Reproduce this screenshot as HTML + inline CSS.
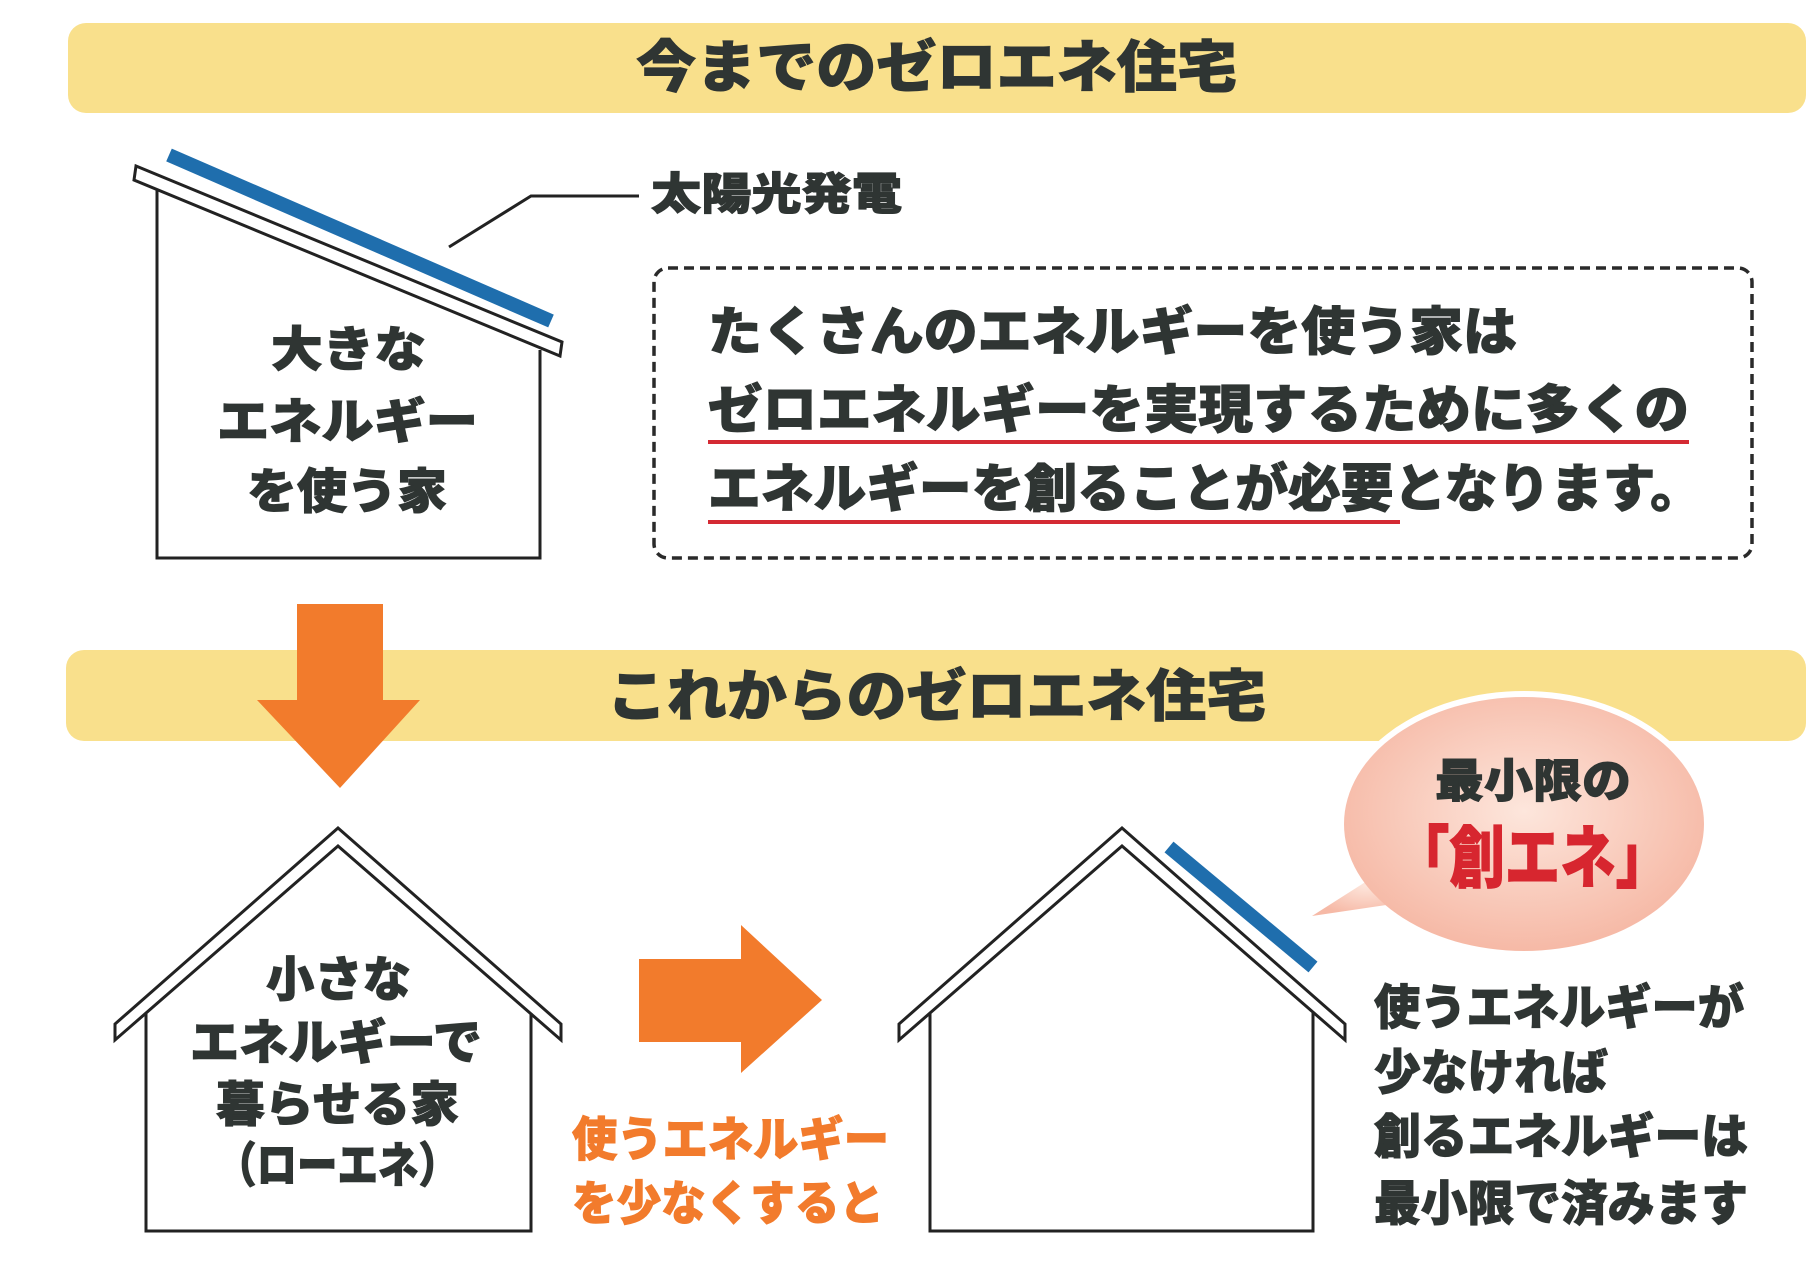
<!DOCTYPE html>
<html><head><meta charset="utf-8"><style>
html,body{margin:0;padding:0;background:#fff;}
svg{display:block;}
text{font-family:"Liberation Sans","Noto Sans CJK JP",sans-serif;font-weight:900;fill:#2f3533;stroke:#2f3533;stroke-width:1;}
</style></head><body>
<svg width="1820" height="1264" viewBox="0 0 1820 1264" xmlns="http://www.w3.org/2000/svg">
<defs>
<radialGradient id="pk" cx="50%" cy="45%" r="55%">
<stop offset="0" stop-color="#fde6dc"/><stop offset="1" stop-color="#f6b9a6"/>
</radialGradient>
</defs>
<rect x="68" y="23" width="1738" height="90" rx="18" fill="#f9e08c"/>
<text x="636" y="87" font-size="56" textLength="601" lengthAdjust="spacingAndGlyphs">今までのゼロエネ住宅</text>
<rect x="66" y="650" width="1740" height="91" rx="18" fill="#f9e08c"/>
<text x="607" y="716" font-size="56" textLength="659" lengthAdjust="spacingAndGlyphs">これからのゼロエネ住宅</text>

<line x1="169" y1="155" x2="551" y2="321" stroke="#1f6ead" stroke-width="14"/>
<polygon points="136,166 562,342 560,356 134,180" fill="#fff" stroke="#222" stroke-width="3"/>
<polyline points="157,190 157,558 540,558 540,350" fill="none" stroke="#222" stroke-width="3"/>
<polyline points="449,247 531,196 639,196" fill="none" stroke="#222" stroke-width="3"/>
<text x="651" y="209" font-size="44" textLength="251" lengthAdjust="spacingAndGlyphs">太陽光発電</text>
<text x="271" y="366" font-size="48" textLength="155" lengthAdjust="spacingAndGlyphs">大きな</text>
<text x="217" y="438" font-size="48" textLength="261" lengthAdjust="spacingAndGlyphs">エネルギー</text>
<text x="247" y="508" font-size="48" textLength="200" lengthAdjust="spacingAndGlyphs">を使う家</text>

<rect x="654" y="268" width="1098" height="290" rx="14" fill="none" stroke="#2a2a2a" stroke-width="3.5" stroke-dasharray="10,6"/>
<text x="708" y="350" font-size="52" textLength="809" lengthAdjust="spacingAndGlyphs">たくさんのエネルギーを使う家は</text>
<text x="708" y="428" font-size="52" textLength="981" lengthAdjust="spacingAndGlyphs">ゼロエネルギーを実現するために多くの</text>
<text x="708" y="507" font-size="52" textLength="995" lengthAdjust="spacingAndGlyphs">エネルギーを創ることが必要となります。</text>
<line x1="708" y1="442" x2="1689" y2="442" stroke="#d42a33" stroke-width="4"/>
<line x1="708" y1="522" x2="1400" y2="522" stroke="#d42a33" stroke-width="4"/>

<polygon points="297,604 383,604 383,700 420,700 340,788 257,700 297,700" fill="#f27b2c"/>

<polygon points="338,828 561,1024 561,1040 338,846 115,1040 115,1024" fill="#fff" stroke="#222" stroke-width="3"/>
<polyline points="146,1013 146,1231 531,1231 531,1013" fill="none" stroke="#222" stroke-width="3"/>
<text x="266" y="996" font-size="48" textLength="145" lengthAdjust="spacingAndGlyphs">小さな</text>
<text x="190" y="1059" font-size="48" textLength="292" lengthAdjust="spacingAndGlyphs">エネルギーで</text>
<text x="216" y="1121" font-size="48" textLength="243" lengthAdjust="spacingAndGlyphs">暮らせる家</text>
<text x="216" y="1182" font-size="48" textLength="243" lengthAdjust="spacingAndGlyphs">（ローエネ）</text>

<polygon points="639,959 741,959 741,925 822,1000 741,1073 741,1042 639,1042" fill="#f27b2c"/>
<text x="572" y="1156" font-size="47" textLength="317" lengthAdjust="spacingAndGlyphs" style="fill:#f27b2c;stroke:#f27b2c">使うエネルギー</text>
<text x="572" y="1220" font-size="47" textLength="312" lengthAdjust="spacingAndGlyphs" style="fill:#f27b2c;stroke:#f27b2c">を少なくすると</text>

<ellipse cx="1524" cy="824" rx="186" ry="133" fill="#fff"/>
<polygon points="1312,916 1400,860 1420,900" fill="url(#pk)"/>
<ellipse cx="1524" cy="824" rx="180" ry="127" fill="url(#pk)"/>
<text x="1435" y="797" font-size="46" textLength="196" lengthAdjust="spacingAndGlyphs">最小限の</text>
<text x="1394" y="882" font-size="68" textLength="277" lengthAdjust="spacingAndGlyphs" style="fill:#d7262f;stroke:#d7262f">「創エネ」</text>

<line x1="1169" y1="847" x2="1313" y2="967" stroke="#1f6ead" stroke-width="14"/>
<polygon points="1122,828 1345,1024 1345,1040 1122,846 899,1040 899,1024" fill="#fff" stroke="#222" stroke-width="3"/>
<polyline points="930,1013 930,1231 1313,1231 1313,1013" fill="none" stroke="#222" stroke-width="3"/>
<text x="1374" y="1024" font-size="48" textLength="370" lengthAdjust="spacingAndGlyphs">使うエネルギーが</text>
<text x="1374" y="1089" font-size="48" textLength="234" lengthAdjust="spacingAndGlyphs">少なければ</text>
<text x="1374" y="1153" font-size="48" textLength="374" lengthAdjust="spacingAndGlyphs">創るエネルギーは</text>
<text x="1374" y="1220" font-size="48" textLength="374" lengthAdjust="spacingAndGlyphs">最小限で済みます</text>
</svg>
</body></html>
